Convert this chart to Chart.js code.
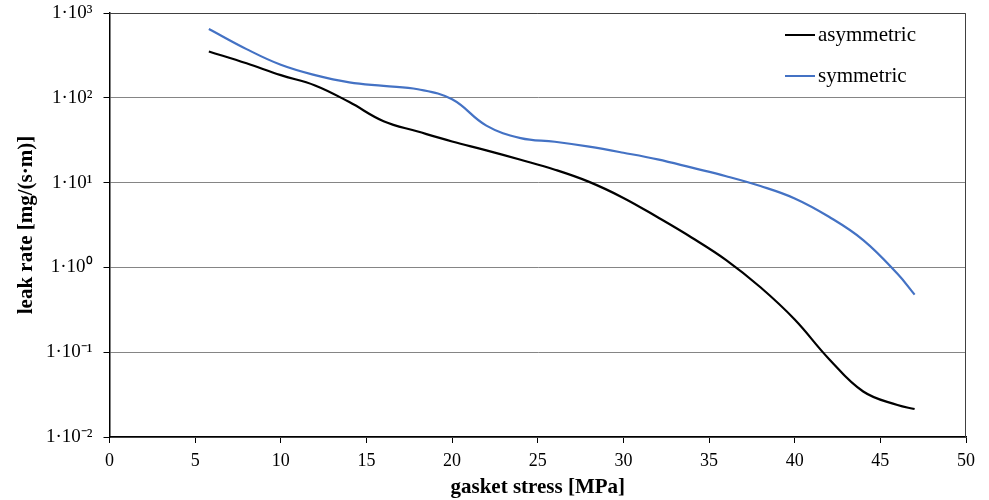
<!DOCTYPE html>
<html>
<head>
<meta charset="utf-8">
<script src="https://cdn.jsdelivr.net/npm/chart.js@4/dist/chart.umd.min.js"></script>
<style>
  html, body { margin: 0; padding: 0; background: #fff; }
  #wrap { width: 989px; height: 500px; }
</style>
</head>
<body>
<div id="wrap"><canvas id="c" width="989" height="500"></canvas></div>
<script>
// Gasket stress [MPa] and leak rate [mg/(s·m)] for each gasket configuration
const asymStress = [5.8, 8, 10, 12, 14, 16, 18, 20, 22, 24, 26, 28, 30, 32, 34, 36, 38, 40, 42, 44, 46, 47];
const asymLeak   = [352, 255, 185, 140, 89, 53, 40, 30.5, 24, 18.6, 14.2, 10.2, 6.6, 3.9, 2.24, 1.22, 0.583, 0.243, 0.0834, 0.0344, 0.0238, 0.0214];

const symStress = [5.8, 8, 10, 12, 14, 16, 18, 20, 22, 24, 26, 28, 30, 32, 34, 36, 38, 40, 42, 44, 46, 47];
const symLeak   = [648, 375, 245, 185, 152, 138, 126, 96, 47, 33.5, 30.3, 26.5, 22.5, 18.8, 15, 11.9, 9.1, 6.5, 3.95, 2.1, 0.84, 0.477];

const seriesNames = ['asymmetric', 'symmetric'];
const seriesColors = ['#000000', '#4472C4'];

// Decade ticks on the leak-rate axis and their labels
const leakTicks = [1e-2, 1e-1, 1e0, 1e1, 1e2, 1e3];
const leakTickLabels = ['1·10⁻²', '1·10⁻¹', '1·10⁰', '1·10¹', '1·10²', '1·10³'];
const stressTicks = [0, 5, 10, 15, 20, 25, 30, 35, 40, 45, 50];

const xTitle = 'gasket stress [MPa]';
const yTitle = 'leak rate [mg/(s·m)]';

const SERIF = '"Liberation Serif", "Times New Roman", serif';

function toPoints(xs, ys) {
  return xs.map((x, i) => ({ x: x, y: ys[i] }));
}

// Frame around the plot area plus an inset legend at the upper right
const framePlugin = {
  id: 'frameAndLegend',
  afterDraw(chart) {
    const { ctx, chartArea: a } = chart;
    ctx.save();
    ctx.strokeStyle = '#404040';
    ctx.lineWidth = 1;
    ctx.beginPath();
    ctx.moveTo(a.left, a.top + 0.5);
    ctx.lineTo(a.right - 0.5, a.top + 0.5);
    ctx.lineTo(a.right - 0.5, a.bottom);
    ctx.stroke();

    ctx.font = '21px ' + SERIF;
    ctx.textBaseline = 'middle';
    ctx.textAlign = 'left';
    chart.data.datasets.forEach((ds, i) => {
      const y = a.top + 22 + i * 41;
      const x0 = a.right - 181;
      ctx.strokeStyle = ds.borderColor;
      ctx.lineWidth = 2;
      ctx.beginPath();
      ctx.moveTo(x0, y);
      ctx.lineTo(x0 + 30, y);
      ctx.stroke();
      ctx.fillStyle = '#000';
      ctx.fillText(ds.label, x0 + 33, y);
    });
    ctx.restore();
  }
};

function lineDataset(i, xs, ys) {
  return {
    label: seriesNames[i],
    data: toPoints(xs, ys),
    borderColor: seriesColors[i],
    backgroundColor: seriesColors[i],
    borderWidth: 2.2,
    pointRadius: 0,
    tension: 0.4,
    fill: false
  };
}

new Chart(document.getElementById('c'), {
  type: 'line',
  data: {
    datasets: [
      lineDataset(0, asymStress, asymLeak),
      lineDataset(1, symStress, symLeak)
    ]
  },
  options: {
    responsive: false,
    animation: false,
    events: [],
    layout: { padding: { top: 13, right: 23, left: 0, bottom: 0 } },
    plugins: {
      legend: { display: false },
      tooltip: { enabled: false }
    },
    scales: {
      x: {
        type: 'linear',
        min: 0,
        max: 50,
        afterBuildTicks(scale) {
          scale.ticks = stressTicks.map(v => ({ value: v }));
        },
        afterFit(scale) {
          scale.height = 63;
          scale.paddingLeft = 0;
          scale.paddingRight = 0;
        },
        grid: {
          drawOnChartArea: false,
          drawTicks: true,
          tickLength: 6,
          color: '#000'
        },
        border: { color: '#000', width: 1.5 },
        ticks: {
          color: '#000',
          padding: 7,
          font: { family: SERIF, size: 18 },
          maxRotation: 0
        },
        title: {
          display: true,
          text: xTitle,
          color: '#000',
          font: { family: SERIF, size: 21, weight: 'bold' },
          padding: { top: 2, bottom: 0 }
        }
      },
      y: {
        type: 'logarithmic',
        min: 1e-2,
        max: 1e3,
        afterBuildTicks(scale) {
          scale.ticks = leakTicks.map(v => ({ value: v }));
        },
        afterFit(scale) {
          scale.width = 109.5;
          scale.paddingTop = 0;
          scale.paddingBottom = 0;
        },
        grid: {
          color: '#858585',
          lineWidth: 1,
          drawTicks: true,
          tickLength: 6,
          tickColor: '#000'
        },
        border: { color: '#000', width: 1.5 },
        ticks: {
          color: '#000',
          padding: 11,
          font: { family: SERIF, size: 19 },
          callback(value) {
            const i = leakTicks.findIndex(t => Math.abs(Math.log10(t) - Math.log10(value)) < 1e-6);
            return i >= 0 ? leakTickLabels[i] : '';
          }
        },
        title: {
          display: true,
          text: yTitle,
          color: '#000',
          font: { family: SERIF, size: 21, weight: 'bold' },
          padding: { top: 14, bottom: 0 }
        }
      }
    }
  },
  plugins: [framePlugin]
});
</script>
</body>
</html>
